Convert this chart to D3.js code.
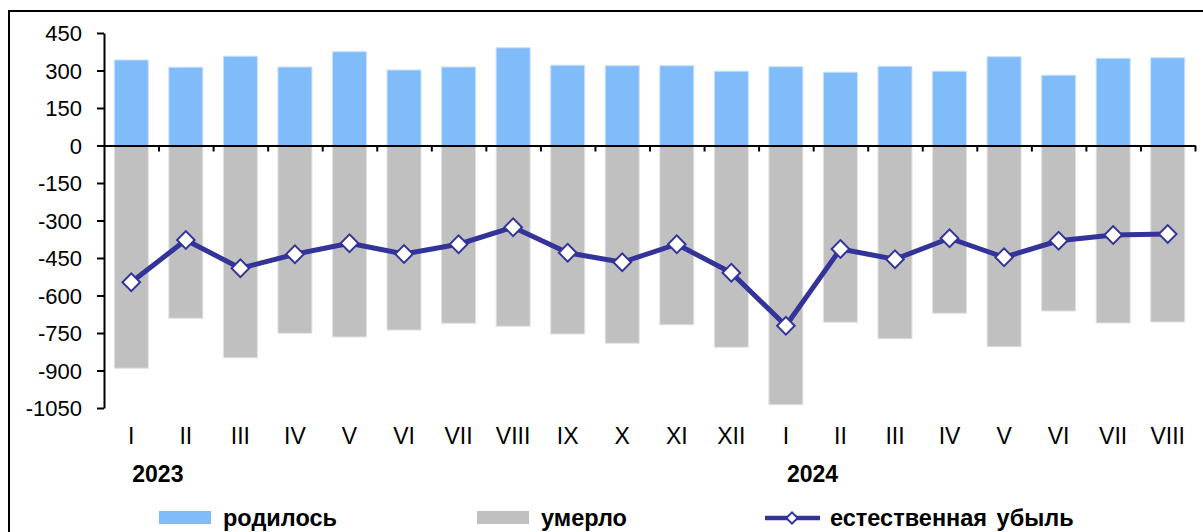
<!DOCTYPE html>
<html>
<head>
<meta charset="utf-8">
<script src="https://cdn.jsdelivr.net/npm/d3@7"></script>
<style>
  body { margin: 0; background: #fff; }
  svg { display: block; font-family: Arial, "Liberation Sans", sans-serif; }
</style>
</head>
<body>
<div class="chart-wrapper"></div>
<script>
// месяцы 2023-2024
var months = ["I", "II", "III", "IV", "V", "VI", "VII", "VIII", "IX", "X", "XI", "XII",
              "I", "II", "III", "IV", "V", "VI", "VII", "VIII"];
var years = [{label: "2023", index: 0}, {label: "2024", index: 12}];

var born = [342, 313, 357, 314, 375, 302, 314, 391, 321, 319, 319, 297,
            315, 293, 317, 297, 355, 281, 349, 351];
var died = [-891, -691, -849, -751, -766, -738, -711, -723, -754, -791, -717, -807,
            -1037, -707, -773, -671, -805, -662, -710, -706];
var decline = [-547, -378, -491, -435, -391, -434, -395, -327, -429, -467, -395, -509,
               -721, -414, -455, -371, -447, -381, -358, -354];

var yTicks = [450, 300, 150, 0, -150, -300, -450, -600, -750, -900, -1050];

var legendItems = [
    {label: "родилось", type: "bar", color: "#80bbfa", x: 159},
    {label: "умерло", type: "bar", color: "#c0c0c0", x: 477},
    {label: "естественная убыль", type: "line", color: "#333399", x: 765}
];

drawChart();

function drawChart() {
    var W = 1203, H = 532;
    var left = 104, right = 1195;

    var svg = d3.select(".chart-wrapper").append("svg")
            .attr("width", W).attr("height", H);

    // рамка
    svg.append("rect")
            .attr("x", 9).attr("y", 11)
            .attr("width", 1210).attr("height", 540)
            .style("fill", "none").style("stroke", "#000").style("stroke-width", 2);

    var x = d3.scaleBand()
            .domain(d3.range(months.length))
            .range([left, right])
            .paddingInner(0.377)
            .paddingOuter(0.1885);
    var xb = d3.scaleLinear().domain([0, months.length]).range([left, right]);
    var y = d3.scaleLinear().domain([-1050, 450]).range([408, 33]);

    // столбцы
    svg.append("g").selectAll("rect.born")
            .data(born).enter().append("rect")
            .attr("x", function (d, i) { return x(i); })
            .attr("width", x.bandwidth())
            .attr("y", function (d) { return y(d); })
            .attr("height", function (d) { return y(0) - y(d); })
            .style("fill", "#80bbfa")
            .style("stroke", "#c8e0fc").style("stroke-width", 1);

    svg.append("g").selectAll("rect.died")
            .data(died).enter().append("rect")
            .attr("x", function (d, i) { return x(i); })
            .attr("width", x.bandwidth())
            .attr("y", y(0))
            .attr("height", function (d) { return y(d) - y(0); })
            .style("fill", "#c0c0c0")
            .style("stroke", "#e2e2e2").style("stroke-width", 1);

    // ось Y
    var gy = svg.append("g")
            .attr("transform", "translate(" + left + ",0)")
            .call(d3.axisLeft(y).tickValues(yTicks).tickSize(7).tickPadding(15).tickSizeOuter(0)
                    .tickFormat(function (d) { return String(d); }));
    gy.select(".domain").style("stroke", "#000").style("stroke-width", 2);
    gy.selectAll(".tick line").style("stroke", "#000").style("stroke-width", 2);
    gy.selectAll(".tick text").style("font-size", "22px").style("fill", "#000")
            .attr("dy", "0.35em");

    // ось X (ноль)
    var gx = svg.append("g")
            .attr("transform", "translate(0," + y(0) + ")")
            .call(d3.axisBottom(xb).tickValues(d3.range(1, months.length + 1))
                    .tickFormat("").tickSize(6).tickSizeOuter(0));
    gx.select(".domain").style("stroke", "#000").style("stroke-width", 2);
    gx.selectAll(".tick line").style("stroke", "#000").style("stroke-width", 2);

    // подписи месяцев
    svg.append("g").selectAll("text")
            .data(months).enter().append("text")
            .attr("x", function (d, i) { return x(i) + x.bandwidth() / 2; })
            .attr("y", 444)
            .attr("text-anchor", "middle")
            .style("font-size", "23px")
            .text(function (d) { return d; });

    svg.append("g").selectAll("text")
            .data(years).enter().append("text")
            .attr("x", function (d) { return x(d.index) + x.bandwidth() / 2 + 1; })
            .attr("y", 482)
            .style("font-size", "23px").style("font-weight", "bold")
            .text(function (d) { return d.label; });

    // линия естественной убыли
    var line = d3.line()
            .x(function (d, i) { return x(i) + x.bandwidth() / 2; })
            .y(function (d) { return y(d); });
    svg.append("path")
            .datum(decline)
            .attr("d", line)
            .style("fill", "none")
            .style("stroke", "#333399")
            .style("stroke-width", 5)
            .style("stroke-linejoin", "round");

    var marker = d3.symbol().type(d3.symbolSquare).size(155);
    svg.append("g").selectAll("path")
            .data(decline).enter().append("path")
            .attr("d", marker)
            .attr("transform", function (d, i) {
                return "translate(" + (x(i) + x.bandwidth() / 2) + "," + y(d) + ") rotate(45)";
            })
            .style("fill", "#fff")
            .style("stroke", "#333399")
            .style("stroke-width", 2);

    // легенда
    var lg = svg.append("g").selectAll("g")
            .data(legendItems).enter().append("g")
            .attr("transform", function (d) { return "translate(" + d.x + ",511)"; });

    lg.filter(function (d) { return d.type == "bar"; })
            .append("rect")
            .attr("width", 52).attr("height", 13)
            .style("fill", function (d) { return d.color; });

    var ll = lg.filter(function (d) { return d.type == "line"; });
    ll.append("line")
            .attr("x1", 0).attr("x2", 55).attr("y1", 7).attr("y2", 7)
            .style("stroke", function (d) { return d.color; })
            .style("stroke-width", 4.5);
    ll.append("path")
            .attr("d", d3.symbol().type(d3.symbolSquare).size(64))
            .attr("transform", "translate(27,7) rotate(45)")
            .style("fill", "#fff")
            .style("stroke", function (d) { return d.color; })
            .style("stroke-width", 2);

    lg.append("text")
            .attr("x", function (d) { return d.type == "line" ? 65 : 64; })
            .attr("y", 15)
            .style("font-size", "23.5px").style("font-weight", "bold")
            .style("word-spacing", "3px")
            .text(function (d) { return d.label; });
}
</script>
</body>
</html>
